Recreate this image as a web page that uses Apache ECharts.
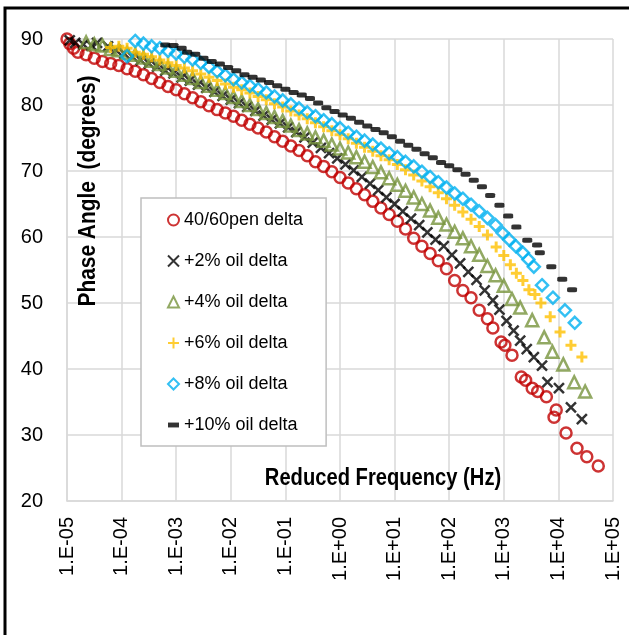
<!DOCTYPE html>
<html><head><meta charset="utf-8">
<script src="https://cdn.jsdelivr.net/npm/echarts@6/dist/echarts.min.js"></script>
<style>html,body{margin:0;padding:0;background:#fff}#c{width:629px;height:635px}</style>
</head><body><div id="c"></div>
<script>
// [log10(reduced frequency, Hz), phase angle (deg)]
const pen4060 = [[-5.00,90.0],[-4.95,89.3],[-4.88,88.6],[-4.80,88.0],[-4.65,87.6],[-4.50,87.1],[-4.35,86.6],[-4.20,86.3],[-4.05,86.0],[-3.90,85.5],[-3.75,85.1],[-3.60,84.6],[-3.45,84.0],[-3.30,83.4],[-3.15,82.8],[-3.00,82.3],[-2.85,81.7],[-2.70,81.1],[-2.55,80.5],[-2.40,79.9],[-2.25,79.3],[-2.10,78.8],[-1.95,78.3],[-1.80,77.7],[-1.65,77.1],[-1.50,76.5],[-1.35,75.9],[-1.20,75.2],[-1.05,74.5],[-0.90,73.8],[-0.75,73.1],[-0.60,72.3],[-0.45,71.4],[-0.30,70.7],[-0.15,69.9],[0.00,69.0],[0.15,68.2],[0.30,67.3],[0.45,66.4],[0.60,65.4],[0.75,64.4],[0.90,63.4],[1.05,62.4],[1.20,61.2],[1.35,59.8],[1.50,58.6],[1.65,57.5],[1.80,56.4],[1.95,55.2],[2.10,53.4],[2.25,51.9],[2.40,50.8],[2.55,48.9],[2.70,47.6],[2.80,46.2],[2.95,44.1],[3.02,43.6],[3.15,42.1],[3.32,38.8],[3.40,38.3],[3.52,37.1],[3.62,36.6],[3.78,35.8],[3.96,33.8],[3.92,32.7],[4.14,30.3],[4.34,28.0],[4.52,26.7],[4.73,25.3]];
const oil2 = [[-4.95,89.8],[-4.85,89.4],[-4.70,89.2],[-4.55,89.0],[-4.45,89.4],[-4.25,88.9],[-4.10,88.3],[-3.95,87.8],[-3.80,87.3],[-3.65,86.8],[-3.50,86.3],[-3.35,85.8],[-3.20,85.2],[-3.05,84.8],[-2.90,84.2],[-2.75,83.7],[-2.60,83.1],[-2.45,82.6],[-2.30,82.0],[-2.15,81.4],[-2.00,80.8],[-1.85,80.3],[-1.70,79.7],[-1.55,79.1],[-1.40,78.4],[-1.25,77.8],[-1.10,77.2],[-0.95,76.6],[-0.80,75.9],[-0.65,75.1],[-0.50,74.3],[-0.35,73.5],[-0.20,72.7],[-0.05,71.9],[0.10,71.0],[0.25,70.1],[0.40,69.1],[0.55,68.1],[0.70,67.1],[0.85,66.0],[1.00,65.0],[1.15,63.9],[1.30,62.8],[1.45,61.8],[1.60,60.7],[1.75,59.6],[1.90,58.6],[2.05,57.3],[2.20,56.0],[2.35,54.7],[2.50,53.5],[2.65,51.9],[2.80,50.4],[2.92,49.0],[3.05,47.3],[3.18,45.8],[3.30,44.3],[3.42,43.0],[3.55,41.8],[3.70,40.5],[3.80,38.0],[4.01,37.1],[4.23,34.2],[4.43,32.4]];
const oil4 = [[-4.65,89.5],[-4.50,89.2],[-4.35,89.0],[-4.20,88.5],[-4.05,88.3],[-3.90,87.9],[-3.75,87.6],[-3.60,87.2],[-3.45,86.7],[-3.30,86.2],[-3.15,85.7],[-3.00,85.2],[-2.85,84.6],[-2.70,84.1],[-2.55,83.5],[-2.40,82.9],[-2.25,82.3],[-2.10,81.8],[-1.95,81.2],[-1.80,80.6],[-1.65,80.0],[-1.50,79.4],[-1.35,78.8],[-1.20,78.2],[-1.05,77.6],[-0.90,76.9],[-0.75,76.2],[-0.60,75.7],[-0.45,75.1],[-0.30,74.6],[-0.15,74.0],[0.00,73.4],[0.15,72.8],[0.30,72.1],[0.45,71.4],[0.60,70.6],[0.75,69.8],[0.90,68.9],[1.05,67.9],[1.20,67.0],[1.35,66.0],[1.50,65.0],[1.65,64.0],[1.80,62.9],[1.95,61.9],[2.10,60.8],[2.25,59.8],[2.40,58.6],[2.55,57.3],[2.70,55.6],[2.85,54.2],[3.00,52.6],[3.15,50.6],[3.30,49.3],[3.52,47.4],[3.74,44.8],[3.89,42.6],[4.09,40.7],[4.29,38.0],[4.49,36.6]];
const oil6 = [[-4.20,88.7],[-4.05,88.9],[-3.90,88.6],[-3.75,88.0],[-3.60,87.7],[-3.45,87.3],[-3.30,86.8],[-3.15,86.4],[-3.00,86.0],[-2.85,85.6],[-2.70,85.2],[-2.55,84.7],[-2.40,84.2],[-2.25,83.7],[-2.10,83.2],[-1.95,82.7],[-1.80,82.3],[-1.65,81.8],[-1.50,81.3],[-1.35,80.8],[-1.20,80.2],[-1.05,79.7],[-0.90,79.1],[-0.75,78.5],[-0.60,77.9],[-0.45,77.3],[-0.30,76.7],[-0.15,76.1],[0.00,75.5],[0.15,74.9],[0.30,74.2],[0.45,73.6],[0.60,73.0],[0.75,72.3],[0.90,71.7],[1.05,71.0],[1.20,70.2],[1.35,69.4],[1.50,68.5],[1.65,67.6],[1.80,66.7],[1.95,65.8],[2.10,64.8],[2.25,63.8],[2.40,62.7],[2.55,61.6],[2.70,60.3],[2.86,58.5],[3.00,57.2],[3.12,55.8],[3.23,54.5],[3.35,53.4],[3.46,52.0],[3.57,51.3],[3.68,50.0],[3.85,47.9],[4.03,45.6],[4.23,43.6],[4.43,41.8]];
const oil8 = [[-3.85,90.1],[-3.75,89.7],[-3.90,87.4],[-3.60,89.3],[-3.45,88.9],[-3.30,88.6],[-3.15,88.2],[-3.00,87.8],[-2.85,87.3],[-2.70,86.9],[-2.55,86.4],[-2.40,85.8],[-2.25,85.1],[-2.10,84.5],[-1.95,83.9],[-1.80,83.4],[-1.65,82.9],[-1.50,82.4],[-1.35,81.9],[-1.20,81.3],[-1.05,80.7],[-0.90,80.1],[-0.75,79.5],[-0.60,78.9],[-0.45,78.3],[-0.30,77.7],[-0.15,77.1],[0.00,76.5],[0.15,75.8],[0.30,75.2],[0.45,74.6],[0.60,74.0],[0.75,73.4],[0.90,72.7],[1.05,72.1],[1.20,71.4],[1.35,70.7],[1.50,69.9],[1.65,69.1],[1.80,68.3],[1.95,67.5],[2.10,66.6],[2.25,65.8],[2.40,64.9],[2.55,63.9],[2.70,62.9],[2.85,61.8],[2.98,60.6],[3.10,59.6],[3.22,58.6],[3.35,57.6],[3.45,56.6],[3.55,55.5],[3.70,52.7],[3.90,50.8],[4.12,48.9],[4.30,47.0]];
const oil10 = [[-3.20,89.1],[-3.05,89.0],[-2.90,88.6],[-2.80,88.0],[-2.65,87.7],[-2.50,87.1],[-2.35,86.6],[-2.20,86.2],[-2.05,85.7],[-1.90,85.2],[-1.75,84.6],[-1.60,84.2],[-1.45,83.8],[-1.30,83.4],[-1.15,82.9],[-1.00,82.4],[-0.85,81.9],[-0.70,81.5],[-0.55,81.0],[-0.40,80.3],[-0.25,79.6],[-0.10,79.0],[0.05,78.5],[0.20,78.0],[0.35,77.4],[0.50,76.8],[0.65,76.3],[0.80,75.8],[0.95,75.2],[1.10,74.5],[1.25,73.9],[1.40,73.3],[1.55,72.6],[1.70,72.0],[1.85,71.3],[2.00,70.8],[2.15,70.2],[2.30,69.5],[2.45,68.6],[2.60,67.6],[2.75,66.3],[2.92,64.8],[3.08,63.2],[3.23,61.5],[3.43,59.5],[3.61,58.8],[3.66,57.6],[3.87,55.5],[4.07,53.6],[4.25,52.0]];
const seriesNames = ['40/60pen delta','+2% oil delta','+4% oil delta','+6% oil delta','+8% oil delta','+10% oil delta'];
const xTitle = 'Reduced Frequency (Hz)';
const yTitle = 'Phase Angle  (degrees)';

const FONT = '"Liberation Sans",Arial,sans-serif';
const toXY = arr => arr.map(p => [Math.pow(10, p[0]), p[1]]);
const styles = [
  {symbol:'circle', symbolSize:11, itemStyle:{color:'rgba(255,255,255,0)', borderColor:'#c00000', borderWidth:2.5}},
  {symbol:'path://M0,0L10,10M10,0L0,10', symbolSize:10, itemStyle:{color:'rgba(255,255,255,0)', borderColor:'#000000', borderWidth:2.5}},
  {symbol:'triangle', symbolSize:12, itemStyle:{color:'rgba(255,255,255,0)', borderColor:'#77933c', borderWidth:2.5}},
  {symbol:'path://M5,0L5,10M0,5L10,5', symbolSize:11, itemStyle:{color:'rgba(255,255,255,0)', borderColor:'#ffc000', borderWidth:3}},
  {symbol:'diamond', symbolSize:12, itemStyle:{color:'rgba(255,255,255,0)', borderColor:'#00b0f0', borderWidth:2.5}},
  {symbol:'roundRect', symbolSize:[10,5], itemStyle:{color:'#000000', borderWidth:0}}
];
const datasets = [pen4060, oil2, oil4, oil6, oil8, oil10];
const series = datasets.map((d,i) => Object.assign({
  name: seriesNames[i], type:'scatter', data: toXY(d), silent:true, z: 2+i
}, styles[i]));

const chart = echarts.init(document.getElementById('c'), null, {renderer:'canvas'});
chart.setOption({
  animation:false,
  backgroundColor:'#ffffff',
  grid:{left:67, top:39, right:16, bottom:134, containLabel:false},
  xAxis:{type:'log', logBase:10, min:1e-5, max:1e5, interval:1,
    axisLine:{show:true, lineStyle:{color:'#d9d9d9', width:1.5}},
    axisTick:{show:false},
    splitLine:{show:true, lineStyle:{color:'#d9d9d9', width:1.5}},
    axisLabel:{rotate:90, margin:16, fontFamily:FONT, fontSize:20, color:'#000', showMinLabel:true, showMaxLabel:true, interval:0,
      formatter: v => { const e = Math.round(Math.log10(v)); return '1.E' + (e<0?'-':'+') + String(Math.abs(e)).padStart(2,'0'); }}
  },
  yAxis:{type:'value', min:20, max:90, interval:10,
    axisLine:{show:true, lineStyle:{color:'#d9d9d9', width:1.5}},
    axisTick:{show:false},
    splitLine:{show:true, lineStyle:{color:'#d9d9d9', width:1.5}},
    axisLabel:{margin:24, fontFamily:FONT, fontSize:20, color:'#000'}
  },
  legend:{orient:'vertical', left:141, top:198, padding:[11,23,10,26], itemGap:19,
    itemWidth:11, itemHeight:11, borderColor:'#bfbfbf', borderWidth:1.5, backgroundColor:'#fff',
    textStyle:{fontFamily:FONT, fontSize:18, color:'#000', lineHeight:22},
    data: seriesNames.map((n,i) => i===5 ? {name:n, icon:'path://M0,0h9v4h-9z'} : {name:n}),
    selectedMode:false},
  graphic:[
    {type:'polyline', shape:{points:[[5,640],[5,8],[640,8]]}, style:{stroke:'#000', lineWidth:3, fill:null}, z:100},
    {type:'text', x:383, y:478, scaleX:0.84, style:{text:xTitle, font:'bold 24px '+FONT, fill:'#000', align:'center', verticalAlign:'middle'}, z:50},
    {type:'text', x:88, y:191, rotation:Math.PI/2, scaleX:0.87, style:{text:yTitle, font:'bold 24px '+FONT, fill:'#000', align:'center', verticalAlign:'middle'}, z:50}
  ],
  series: series
});
</script></body></html>
